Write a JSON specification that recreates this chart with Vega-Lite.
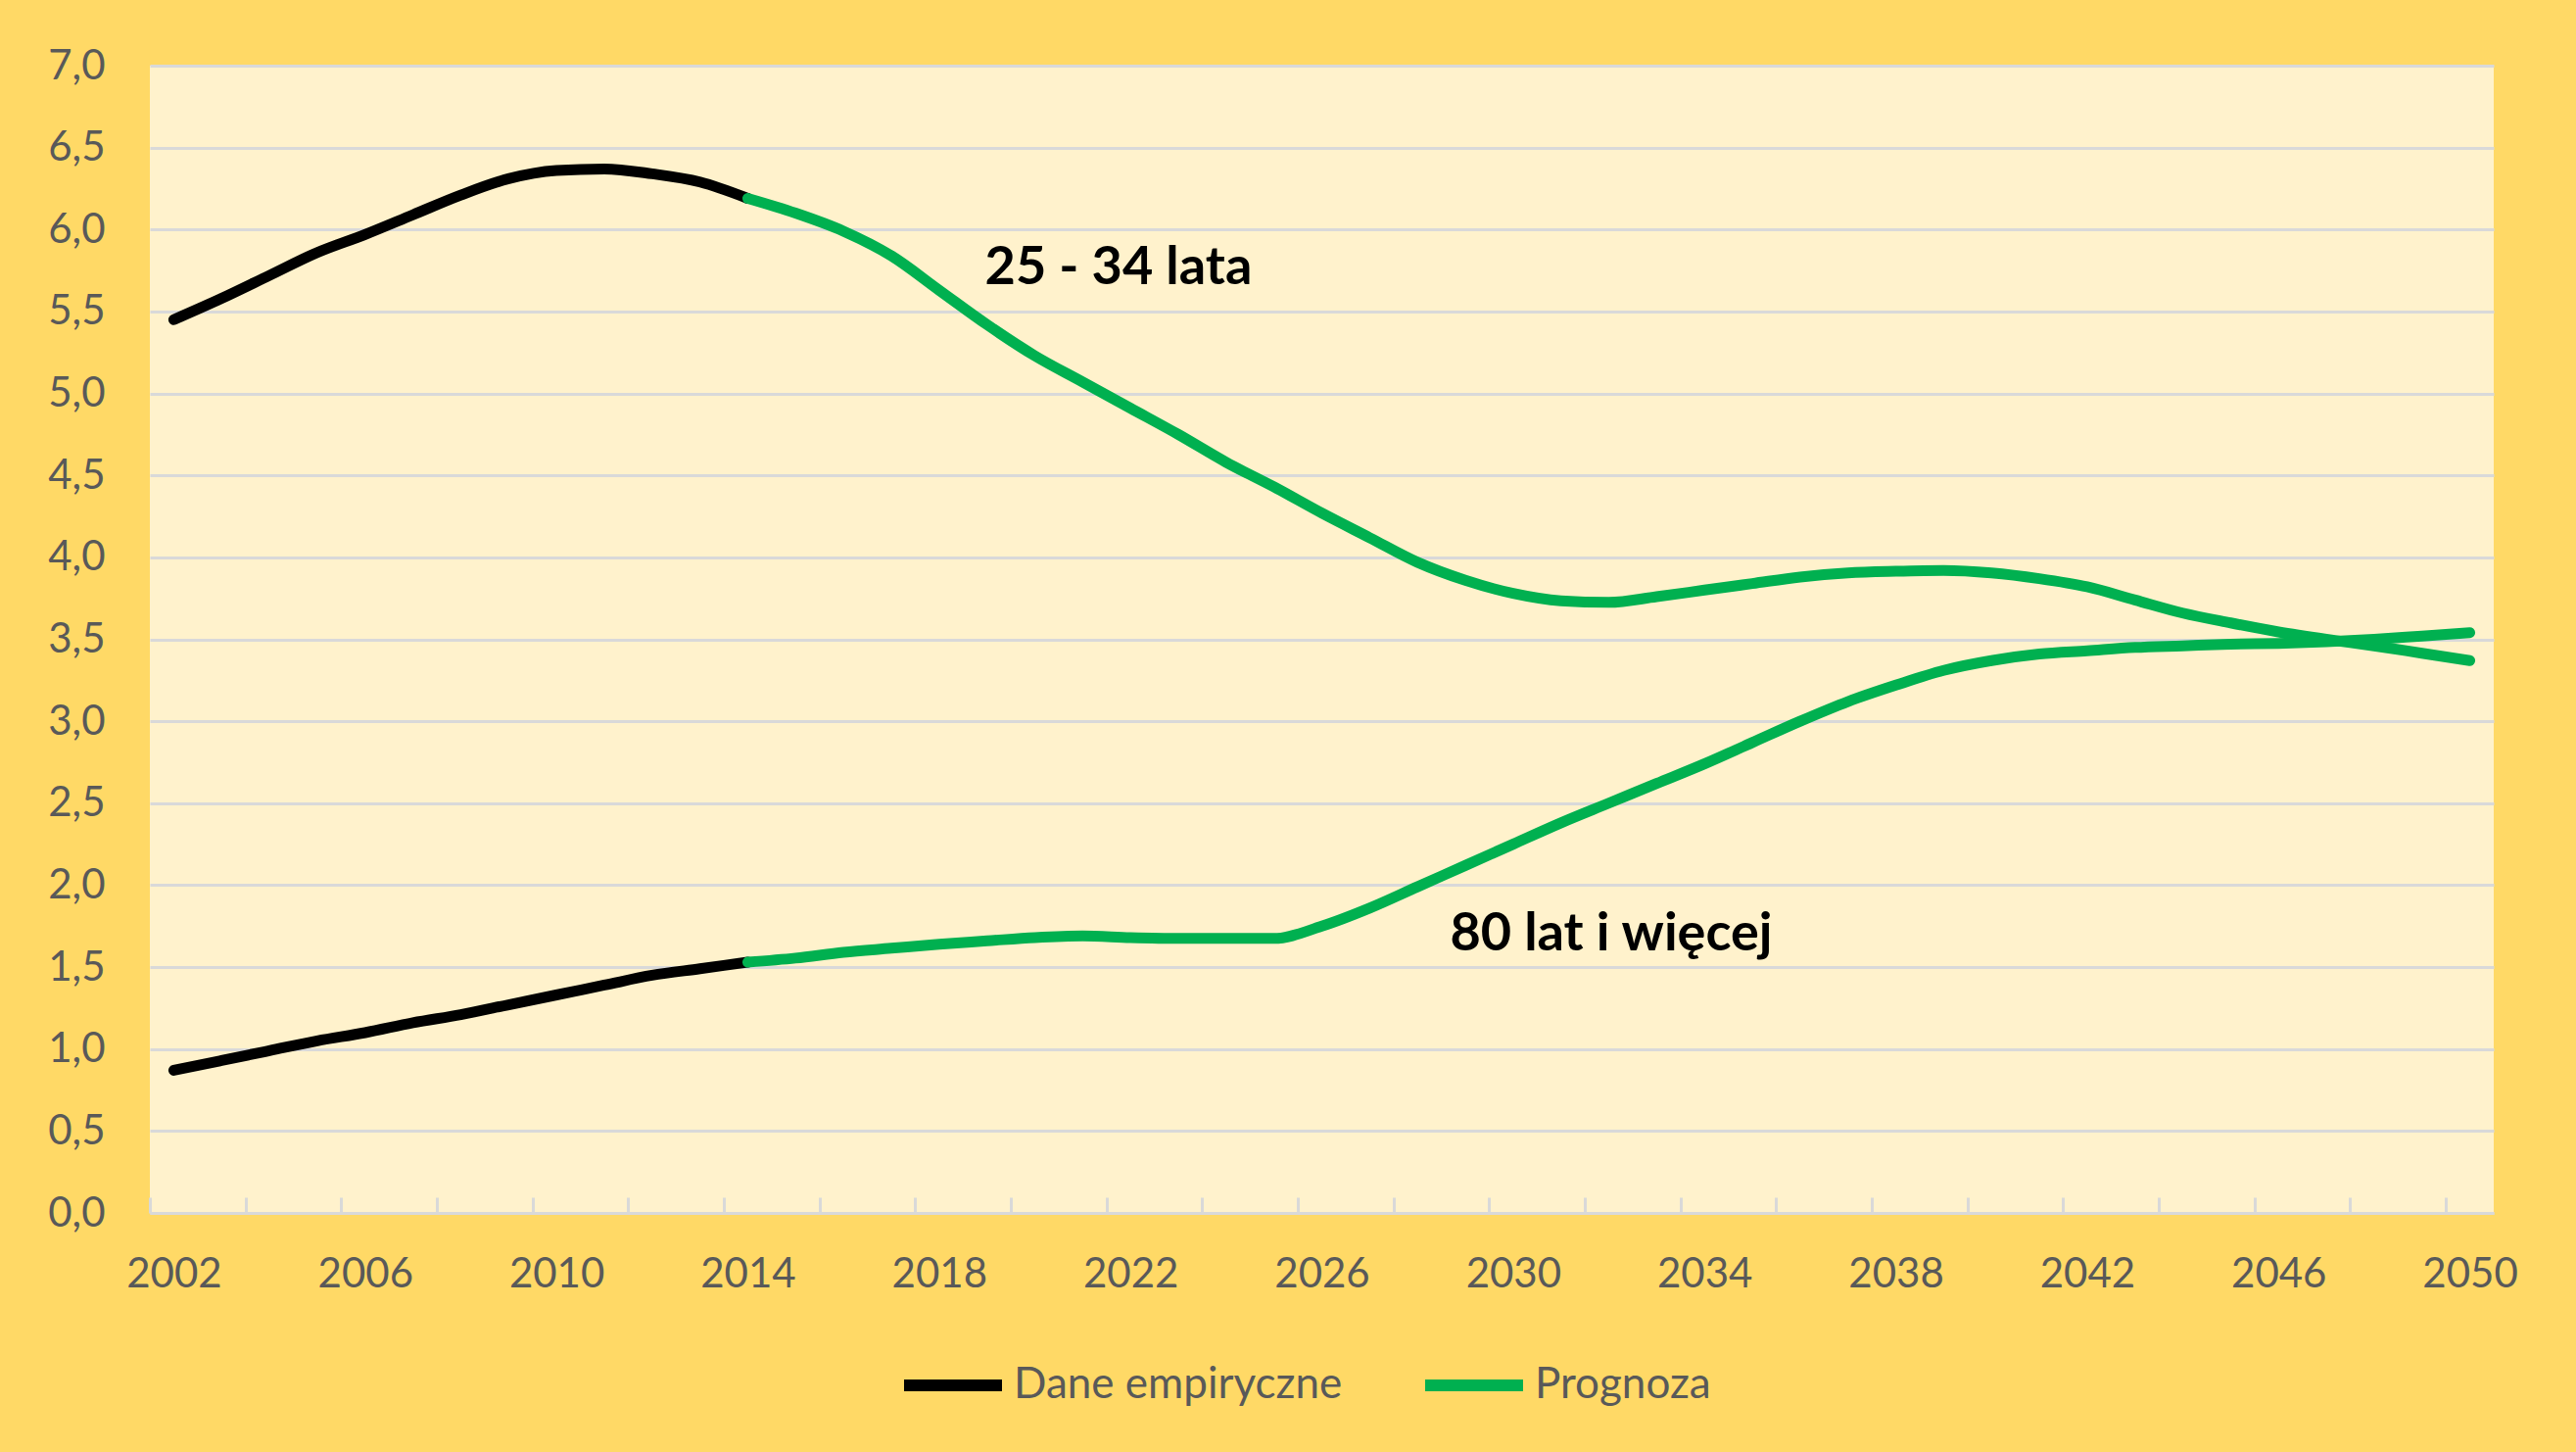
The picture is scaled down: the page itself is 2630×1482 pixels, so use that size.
{
  "$schema": "https://vega.github.io/schema/vega-lite/v6.json",
  "width": 2393,
  "height": 1171,
  "autosize": {"type": "none"},
  "padding": {"left": 153, "top": 67, "right": 84, "bottom": 244},
  "background": "#FFD966",
  "config": {
    "view": {"fill": "#FFF2CC", "stroke": null},
    "font": "Lato"
  },
  "datasets": {
    "series": [
      {"year": 2002, "value": 5.45, "age": "25-34", "type": "Dane empiryczne"},
      {"year": 2003, "value": 5.58, "age": "25-34", "type": "Dane empiryczne"},
      {"year": 2004, "value": 5.72, "age": "25-34", "type": "Dane empiryczne"},
      {"year": 2005, "value": 5.86, "age": "25-34", "type": "Dane empiryczne"},
      {"year": 2006, "value": 5.97, "age": "25-34", "type": "Dane empiryczne"},
      {"year": 2007, "value": 6.09, "age": "25-34", "type": "Dane empiryczne"},
      {"year": 2008, "value": 6.21, "age": "25-34", "type": "Dane empiryczne"},
      {"year": 2009, "value": 6.31, "age": "25-34", "type": "Dane empiryczne"},
      {"year": 2010, "value": 6.36, "age": "25-34", "type": "Dane empiryczne"},
      {"year": 2011, "value": 6.37, "age": "25-34", "type": "Dane empiryczne"},
      {"year": 2012, "value": 6.34, "age": "25-34", "type": "Dane empiryczne"},
      {"year": 2013, "value": 6.29, "age": "25-34", "type": "Dane empiryczne"},
      {"year": 2014, "value": 6.19, "age": "25-34", "type": "Dane empiryczne"},
      {"year": 2014, "value": 6.19, "age": "25-34", "type": "Prognoza"},
      {"year": 2015, "value": 6.10, "age": "25-34", "type": "Prognoza"},
      {"year": 2016, "value": 5.99, "age": "25-34", "type": "Prognoza"},
      {"year": 2017, "value": 5.84, "age": "25-34", "type": "Prognoza"},
      {"year": 2018, "value": 5.63, "age": "25-34", "type": "Prognoza"},
      {"year": 2019, "value": 5.42, "age": "25-34", "type": "Prognoza"},
      {"year": 2020, "value": 5.23, "age": "25-34", "type": "Prognoza"},
      {"year": 2021, "value": 5.07, "age": "25-34", "type": "Prognoza"},
      {"year": 2022, "value": 4.91, "age": "25-34", "type": "Prognoza"},
      {"year": 2023, "value": 4.75, "age": "25-34", "type": "Prognoza"},
      {"year": 2024, "value": 4.58, "age": "25-34", "type": "Prognoza"},
      {"year": 2025, "value": 4.43, "age": "25-34", "type": "Prognoza"},
      {"year": 2026, "value": 4.27, "age": "25-34", "type": "Prognoza"},
      {"year": 2027, "value": 4.12, "age": "25-34", "type": "Prognoza"},
      {"year": 2028, "value": 3.97, "age": "25-34", "type": "Prognoza"},
      {"year": 2029, "value": 3.86, "age": "25-34", "type": "Prognoza"},
      {"year": 2030, "value": 3.78, "age": "25-34", "type": "Prognoza"},
      {"year": 2031, "value": 3.735, "age": "25-34", "type": "Prognoza"},
      {"year": 2032, "value": 3.725, "age": "25-34", "type": "Prognoza"},
      {"year": 2033, "value": 3.76, "age": "25-34", "type": "Prognoza"},
      {"year": 2034, "value": 3.80, "age": "25-34", "type": "Prognoza"},
      {"year": 2035, "value": 3.84, "age": "25-34", "type": "Prognoza"},
      {"year": 2036, "value": 3.88, "age": "25-34", "type": "Prognoza"},
      {"year": 2037, "value": 3.905, "age": "25-34", "type": "Prognoza"},
      {"year": 2038, "value": 3.915, "age": "25-34", "type": "Prognoza"},
      {"year": 2039, "value": 3.92, "age": "25-34", "type": "Prognoza"},
      {"year": 2040, "value": 3.905, "age": "25-34", "type": "Prognoza"},
      {"year": 2041, "value": 3.87, "age": "25-34", "type": "Prognoza"},
      {"year": 2042, "value": 3.82, "age": "25-34", "type": "Prognoza"},
      {"year": 2043, "value": 3.74, "age": "25-34", "type": "Prognoza"},
      {"year": 2044, "value": 3.66, "age": "25-34", "type": "Prognoza"},
      {"year": 2045, "value": 3.60, "age": "25-34", "type": "Prognoza"},
      {"year": 2046, "value": 3.545, "age": "25-34", "type": "Prognoza"},
      {"year": 2047, "value": 3.50, "age": "25-34", "type": "Prognoza"},
      {"year": 2048, "value": 3.46, "age": "25-34", "type": "Prognoza"},
      {"year": 2049, "value": 3.415, "age": "25-34", "type": "Prognoza"},
      {"year": 2050, "value": 3.37, "age": "25-34", "type": "Prognoza"},
      {"year": 2002, "value": 0.87, "age": "80+", "type": "Dane empiryczne"},
      {"year": 2003, "value": 0.93, "age": "80+", "type": "Dane empiryczne"},
      {"year": 2004, "value": 0.99, "age": "80+", "type": "Dane empiryczne"},
      {"year": 2005, "value": 1.05, "age": "80+", "type": "Dane empiryczne"},
      {"year": 2006, "value": 1.10, "age": "80+", "type": "Dane empiryczne"},
      {"year": 2007, "value": 1.16, "age": "80+", "type": "Dane empiryczne"},
      {"year": 2008, "value": 1.21, "age": "80+", "type": "Dane empiryczne"},
      {"year": 2009, "value": 1.27, "age": "80+", "type": "Dane empiryczne"},
      {"year": 2010, "value": 1.33, "age": "80+", "type": "Dane empiryczne"},
      {"year": 2011, "value": 1.39, "age": "80+", "type": "Dane empiryczne"},
      {"year": 2012, "value": 1.45, "age": "80+", "type": "Dane empiryczne"},
      {"year": 2013, "value": 1.49, "age": "80+", "type": "Dane empiryczne"},
      {"year": 2014, "value": 1.53, "age": "80+", "type": "Dane empiryczne"},
      {"year": 2014, "value": 1.53, "age": "80+", "type": "Prognoza"},
      {"year": 2015, "value": 1.555, "age": "80+", "type": "Prognoza"},
      {"year": 2016, "value": 1.59, "age": "80+", "type": "Prognoza"},
      {"year": 2017, "value": 1.615, "age": "80+", "type": "Prognoza"},
      {"year": 2018, "value": 1.64, "age": "80+", "type": "Prognoza"},
      {"year": 2019, "value": 1.66, "age": "80+", "type": "Prognoza"},
      {"year": 2020, "value": 1.68, "age": "80+", "type": "Prognoza"},
      {"year": 2021, "value": 1.69, "age": "80+", "type": "Prognoza"},
      {"year": 2022, "value": 1.68, "age": "80+", "type": "Prognoza"},
      {"year": 2023, "value": 1.675, "age": "80+", "type": "Prognoza"},
      {"year": 2024, "value": 1.675, "age": "80+", "type": "Prognoza"},
      {"year": 2025, "value": 1.675, "age": "80+", "type": "Prognoza"},
      {"year": 2026, "value": 1.75, "age": "80+", "type": "Prognoza"},
      {"year": 2027, "value": 1.86, "age": "80+", "type": "Prognoza"},
      {"year": 2028, "value": 1.99, "age": "80+", "type": "Prognoza"},
      {"year": 2029, "value": 2.12, "age": "80+", "type": "Prognoza"},
      {"year": 2030, "value": 2.25, "age": "80+", "type": "Prognoza"},
      {"year": 2031, "value": 2.38, "age": "80+", "type": "Prognoza"},
      {"year": 2032, "value": 2.50, "age": "80+", "type": "Prognoza"},
      {"year": 2033, "value": 2.62, "age": "80+", "type": "Prognoza"},
      {"year": 2034, "value": 2.74, "age": "80+", "type": "Prognoza"},
      {"year": 2035, "value": 2.87, "age": "80+", "type": "Prognoza"},
      {"year": 2036, "value": 3.00, "age": "80+", "type": "Prognoza"},
      {"year": 2037, "value": 3.12, "age": "80+", "type": "Prognoza"},
      {"year": 2038, "value": 3.22, "age": "80+", "type": "Prognoza"},
      {"year": 2039, "value": 3.31, "age": "80+", "type": "Prognoza"},
      {"year": 2040, "value": 3.37, "age": "80+", "type": "Prognoza"},
      {"year": 2041, "value": 3.41, "age": "80+", "type": "Prognoza"},
      {"year": 2042, "value": 3.43, "age": "80+", "type": "Prognoza"},
      {"year": 2043, "value": 3.45, "age": "80+", "type": "Prognoza"},
      {"year": 2044, "value": 3.46, "age": "80+", "type": "Prognoza"},
      {"year": 2045, "value": 3.47, "age": "80+", "type": "Prognoza"},
      {"year": 2046, "value": 3.475, "age": "80+", "type": "Prognoza"},
      {"year": 2047, "value": 3.485, "age": "80+", "type": "Prognoza"},
      {"year": 2048, "value": 3.50, "age": "80+", "type": "Prognoza"},
      {"year": 2049, "value": 3.52, "age": "80+", "type": "Prognoza"},
      {"year": 2050, "value": 3.54, "age": "80+", "type": "Prognoza"}
    ],
    "labels": [
      {"year": 2021.75, "value": 5.76, "label": "25 - 34 lata"},
      {"year": 2032.05, "value": 1.70, "label": "80 lat i więcej"}
    ]
  },
  "resolve": {"axis": {"x": "independent"}},
  "layer": [
    {
      "data": {"name": "series"},
      "mark": {"type": "line", "interpolate": "monotone", "strokeWidth": 11, "strokeCap": "round", "strokeJoin": "round"},
      "encoding": {
        "x": {
          "field": "year", "type": "quantitative",
          "scale": {"domain": [2001.5, 2050.5], "nice": false, "zero": false},
          "axis": {
            "orient": "bottom",
            "values": [2002, 2006, 2010, 2014, 2018, 2022, 2026, 2030, 2034, 2038, 2042, 2046, 2050],
            "format": "d", "title": null, "grid": false,
            "ticks": false, "tickSize": 0,
            "domain": true, "domainColor": "#D9D9D9", "domainWidth": 3,
            "labelFontSize": 42, "labelColor": "#595959", "labelBaseline": "middle",
            "labelPadding": 62, "labelFlush": false, "labelOverlap": false
          }
        },
        "y": {
          "field": "value", "type": "quantitative",
          "scale": {"domain": [0, 7], "nice": false, "zero": true},
          "axis": {
            "values": [0, 0.5, 1, 1.5, 2, 2.5, 3, 3.5, 4, 4.5, 5, 5.5, 6, 6.5, 7],
            "labelExpr": "replace(format(datum.value, '.1f'), '.', ',')",
            "title": null, "grid": true, "gridColor": "#D9D9D9", "gridWidth": 3,
            "domain": false, "ticks": false, "tickSize": 0,
            "labelFontSize": 42, "labelColor": "#595959", "labelPadding": 46,
            "labelFlush": false, "labelOverlap": false
          }
        },
        "color": {
          "field": "type", "type": "nominal",
          "scale": {"domain": ["Dane empiryczne", "Prognoza"], "range": ["#000000", "#00B050"]},
          "legend": {
            "orient": "none", "legendX": 764, "legendY": 1291,
            "direction": "horizontal", "title": null,
            "symbolType": "stroke", "symbolStrokeWidth": 12, "symbolSize": 10000,
            "labelFontSize": 44, "labelColor": "#595959", "labelOffset": 6, "labelLimit": 0,
            "columnPadding": 60, "padding": 0
          }
        },
        "detail": {"field": "age", "type": "nominal"}
      }
    },
    {
      "data": {"name": "labels"},
      "mark": {"type": "text", "fontSize": 54, "fontWeight": "bold", "color": "#000000", "align": "center", "baseline": "middle"},
      "encoding": {
        "x": {
          "field": "year", "type": "quantitative",
          "axis": {
            "orient": "bottom",
            "values": [2001.5, 2003.5, 2005.5, 2007.5, 2009.5, 2011.5, 2013.5, 2015.5, 2017.5, 2019.5, 2021.5, 2023.5, 2025.5, 2027.5, 2029.5, 2031.5, 2033.5, 2035.5, 2037.5, 2039.5, 2041.5, 2043.5, 2045.5, 2047.5, 2049.5],
            "title": null, "grid": false, "labels": false, "domain": false,
            "ticks": true, "tickSize": -16, "tickColor": "#D9D9D9", "tickWidth": 3
          }
        },
        "y": {"field": "value", "type": "quantitative"},
        "text": {"field": "label", "type": "nominal"}
      }
    }
  ]
}
